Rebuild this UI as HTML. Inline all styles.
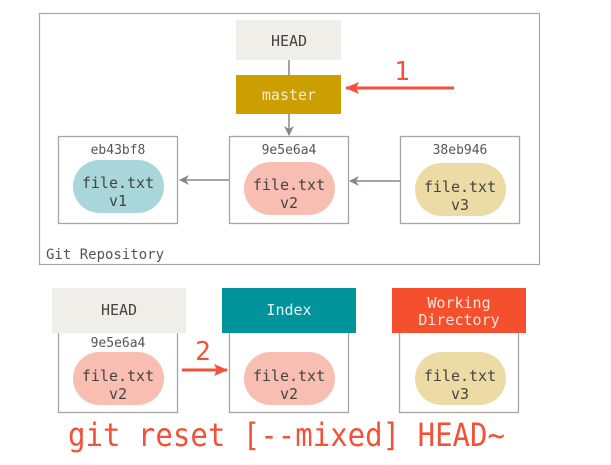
<!DOCTYPE html>
<html><head><style>
html,body{margin:0;padding:0;background:#fff;}
svg text{font-family:"DejaVu Sans Mono","Liberation Mono",monospace;}
</style></head><body>
<svg width="611" height="460" viewBox="0 0 611 460" xmlns="http://www.w3.org/2000/svg">
<defs>
<marker id="g" markerWidth="10" markerHeight="10" refX="9" refY="5" orient="auto" markerUnits="userSpaceOnUse"><path d="M0,0 L10,5 L0,10 L3,5 Z" fill="#8b8680"/></marker>
<marker id="r" markerWidth="14" markerHeight="12" refX="13" refY="6" orient="auto" markerUnits="userSpaceOnUse"><path d="M0,0 L14,6 L0,12 L3,6 Z" fill="#f0533a"/></marker>
</defs>
<rect x="39.5" y="13.5" width="500" height="251" fill="#fff" stroke="#a8a6a3" stroke-width="1.2"/>
<text x="46" y="259" font-size="14" fill="#555">Git Repository</text>
<line x1="289" y1="60" x2="289" y2="75" stroke="#8b8680" stroke-width="1.5"/>
<rect x="236" y="20" width="105" height="40" fill="#efeee8"/>
<text x="289" y="46" font-size="15" fill="#444" text-anchor="middle">HEAD</text>
<rect x="236" y="75" width="105" height="39" fill="#cc9e00"/>
<text x="289" y="100" font-size="15" fill="#f6edd0" text-anchor="middle">master</text>
<line x1="289" y1="114" x2="289" y2="135" stroke="#8b8680" stroke-width="1.5" marker-end="url(#g)"/>
<line x1="454" y1="88" x2="346" y2="88" stroke="#f0533a" stroke-width="3" marker-end="url(#r)"/>
<text x="402" y="80" font-size="26" fill="#f0533a" text-anchor="middle" font-family="Liberation Sans,sans-serif">1</text>
<line x1="229" y1="180" x2="180" y2="180" stroke="#8b8680" stroke-width="1.5" marker-end="url(#g)"/>
<line x1="400" y1="181" x2="350" y2="181" stroke="#8b8680" stroke-width="1.5" marker-end="url(#g)"/>
<g fill="#fff" stroke="#a8a6a3" stroke-width="1.3">
<rect x="58.5" y="136.5" width="119" height="87"/>
<rect x="229.5" y="136.5" width="119" height="87"/>
<rect x="400.5" y="136.5" width="119" height="87"/>
</g>
<g font-size="13" fill="#555" text-anchor="middle">
<text x="118" y="154">eb43bf8</text><text x="289" y="154">9e5e6a4</text><text x="460" y="154">38eb946</text>
</g>
<rect x="73" y="160" width="91" height="53" rx="26.5" fill="#a8d6da"/>
<rect x="244" y="162" width="91" height="53" rx="26.5" fill="#f7beb1"/>
<rect x="415" y="163" width="91" height="53" rx="26.5" fill="#ecdba4"/>
<g font-size="15" fill="#444" text-anchor="middle">
<text x="118" y="188">file.txt</text><text x="118" y="206">v1</text>
<text x="289" y="190">file.txt</text><text x="289" y="208">v2</text>
<text x="460" y="192">file.txt</text><text x="460" y="210">v3</text>
</g>
<g fill="#fff" stroke="#a8a6a3" stroke-width="1.3">
<rect x="58.5" y="330.5" width="119" height="82"/>
<rect x="229.5" y="330.5" width="119" height="82"/>
<rect x="399.5" y="330.5" width="119" height="82"/>
</g>
<rect x="52" y="288" width="134" height="45" fill="#efeee8"/>
<text x="119" y="315" font-size="15" fill="#444" text-anchor="middle">HEAD</text>
<rect x="222" y="288" width="134" height="45" fill="#00939a"/>
<text x="289" y="315" font-size="15" fill="#e6f4f4" text-anchor="middle">Index</text>
<rect x="392" y="288" width="134" height="45" fill="#f4502d"/>
<text x="459" y="308" font-size="15" fill="#fde3dc" text-anchor="middle">Working</text>
<text x="459" y="325" font-size="15" fill="#fde3dc" text-anchor="middle">Directory</text>
<text x="118" y="347" font-size="13" fill="#555" text-anchor="middle">9e5e6a4</text>
<rect x="73" y="352" width="91" height="53" rx="26.5" fill="#f7beb1"/>
<rect x="244" y="352" width="91" height="53" rx="26.5" fill="#f7beb1"/>
<rect x="415" y="352" width="91" height="53" rx="26.5" fill="#ecdba4"/>
<g font-size="15" fill="#444" text-anchor="middle">
<text x="118" y="381">file.txt</text><text x="118" y="399">v2</text>
<text x="289" y="381">file.txt</text><text x="289" y="399">v2</text>
<text x="460" y="381">file.txt</text><text x="460" y="399">v3</text>
</g>
<line x1="182" y1="370" x2="227" y2="370" stroke="#f0533a" stroke-width="3" marker-end="url(#r)"/>
<text x="203" y="360" font-size="26" fill="#f0533a" text-anchor="middle" font-family="Liberation Sans,sans-serif">2</text>
<text x="68" y="446" font-size="32" fill="#f0533a" textLength="437" lengthAdjust="spacingAndGlyphs">git reset [--mixed] HEAD~</text>
</svg>
</body></html>
